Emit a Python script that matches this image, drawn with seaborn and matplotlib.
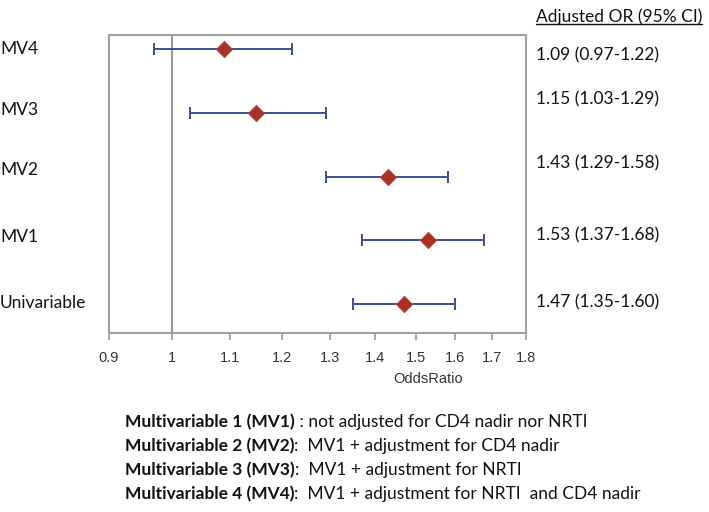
import matplotlib
matplotlib.use("Agg")
import matplotlib.pyplot as plt
import matplotlib.ticker as mticker
import seaborn as sns
import pandas as pd

# Data (top row first)
models = ["MV4", "MV3", "MV2", "MV1", "Univariable"]
odds_ratio = [1.09, 1.15, 1.43, 1.53, 1.47]
ci_low = [0.97, 1.03, 1.29, 1.37, 1.35]
ci_high = [1.22, 1.29, 1.58, 1.68, 1.60]
x_ticks = [0.9, 1.0, 1.1, 1.2, 1.3, 1.4, 1.5, 1.6, 1.7, 1.8]
x_tick_labels = ["0.9", "1", "1.1", "1.2", "1.3", "1.4", "1.5", "1.6", "1.7", "1.8"]

footnote_bold = ["Multivariable 1 (MV1)", "Multivariable 2 (MV2)",
                 "Multivariable 3 (MV3)", "Multivariable 4 (MV4)"]
footnote_text = [" : not adjusted for CD4 nadir nor NRTI",
                 ":  MV1 + adjustment for CD4 nadir",
                 ":  MV1 + adjustment for NRTI",
                 ":  MV1 + adjustment for NRTI  and CD4 nadir"]

df = pd.DataFrame({"model": models, "or": odds_ratio,
                   "lo": ci_low, "hi": ci_high})
df["row"] = range(len(df))

sns.set_style("white")
plt.rcParams["font.family"] = ["Liberation Sans", "DejaVu Sans"]

W, H = 709, 512
fig = plt.figure(figsize=(W / 100, H / 100), dpi=100, facecolor="white")
ax = fig.add_axes([109 / W, (H - 333) / H, 417 / W, 298 / H])
ax.set_facecolor("white")

line_col = "#3d4f8e"
mark_col = "#a83226"

ax.axvline(1.0, color="#9a9a9a", lw=1.5, zorder=1)
ax.errorbar(df["or"], df["row"],
            xerr=[df["or"] - df["lo"], df["hi"] - df["or"]],
            fmt="none", ecolor=line_col, elinewidth=1.4, capsize=4,
            capthick=1.4, zorder=2)
sns.scatterplot(data=df, x="or", y="row", marker="D", s=70,
                color=mark_col, edgecolor="#b8473a", linewidth=0.6,
                zorder=3, ax=ax, legend=False)

ax.set_xscale("log")
ax.set_xlim(0.9, 1.8)
ax.set_ylim(4.455, -0.22)
ax.xaxis.set_major_locator(mticker.FixedLocator(x_ticks))
ax.xaxis.set_minor_locator(mticker.NullLocator())
ax.set_xticks(x_ticks)
ax.set_xticklabels(x_tick_labels, fontsize=10.5, color="#333333")
ax.set_yticks([])
ax.tick_params(axis="x", direction="out", length=5, width=1.2,
               color="#9a9a9a", pad=8, bottom=True)
ax.set_xlabel("")
ax.set_ylabel("")
for sp in ax.spines.values():
    sp.set_color("#a0a0a0")
    sp.set_linewidth(1.5)

fig.text(428 / W, 1 - 379 / H, "OddsRatio", ha="center", va="center",
         fontsize=10.5, color="#333333")

# row labels on the left
label_font = ["Lato", "DejaVu Sans"]
left_y = [49, 110, 170, 237, 303]
for name, yp in zip(models, left_y):
    fig.text(0 / W, 1 - yp / H, name, ha="left", va="center",
             fontsize=12.5, family=label_font, color="#111111")

# adjusted OR column on the right
right_y = [55, 99, 163, 235, 302]
for o, lo, hi, yp in zip(odds_ratio, ci_low, ci_high, right_y):
    fig.text(536 / W, 1 - yp / H, f"{o:.2f} ({lo:.2f}-{hi:.2f})",
             ha="left", va="center", fontsize=12.5, family=label_font,
             color="#111111")

hdr = fig.text(536 / W, 1 - 17 / H, "Adjusted OR (95% CI)", ha="left",
               va="center", fontsize=12.5, family=label_font, color="#111111")

# footnote lines with bold lead-in
foot_y = [422, 446, 470, 494]
for b, t, yp in zip(footnote_bold, footnote_text, foot_y):
    bt = fig.text(125 / W, 1 - yp / H, b, ha="left", va="center",
                  fontsize=12.5, family=label_font, weight="bold",
                  color="#111111")
    ax.annotate(t, xy=(1, 0.5), xycoords=bt, ha="left", va="center",
                fontsize=12.5, family=label_font, color="#111111",
                annotation_clip=False)

# underline the header
fig.canvas.draw()
bb = hdr.get_window_extent()
fig.add_artist(plt.Line2D([bb.x0 / W, bb.x1 / W],
                          [(bb.y0 + 1) / H, (bb.y0 + 1) / H],
                          color="#111111", lw=1.0))

fig.savefig("out.png", dpi=100, facecolor="white")
